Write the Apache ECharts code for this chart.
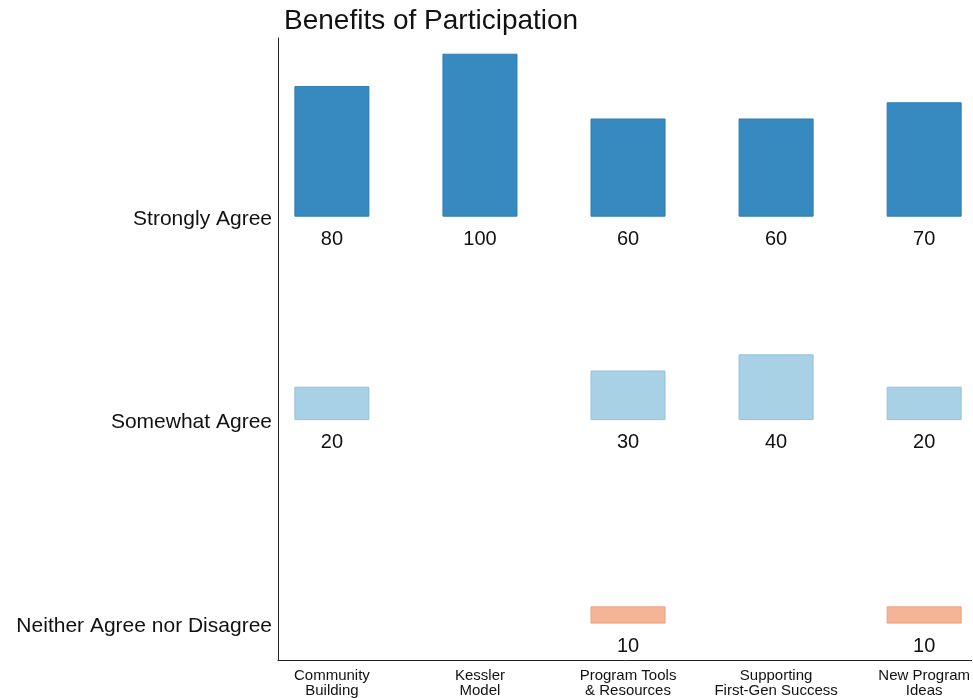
<!DOCTYPE html>
<html>
<head>
<meta charset="utf-8">
<script src="https://cdn.jsdelivr.net/npm/echarts@6/dist/echarts.min.js"></script>
<style>
  html, body { margin: 0; padding: 0; background: #fff; }
  #chart { width: 973px; height: 698px; }
</style>
</head>
<body>
<div id="chart"></div>
<script>
var categories = ['Community\nBuilding', 'Kessler\nModel', 'Program Tools\n& Resources', 'Supporting\nFirst-Gen Success', 'New Program\nIdeas'];
var levels = ['Neither Agree nor Disagree', 'Somewhat Agree', 'Strongly Agree'];
var stronglyAgree = [80, 100, 60, 60, 70];
var somewhatAgree = [20, null, 30, 40, 20];
var neitherAgree = [null, null, 10, null, 10];
var levelColors = ['#f4b496', '#a8d1e5', '#378abf'];
var levelBorders = ['#eca07e', '#93c3dc', '#2f7bb0'];

var rowStep = 125.6; // y units between row baselines
var labelShift = 1.8; // row names sit a little below the baseline
var rows = [neitherAgree, somewhatAgree, stronglyAgree];

var chart = echarts.init(document.getElementById('chart'));
var font = 'Arial, "Liberation Sans", sans-serif';

function rowData(vals, r) {
    var out = [];
    vals.forEach(function (v, i) {
        if (v != null) out.push([i + 1, r * rowStep, v]);
    });
    return out;
}

function renderCell(r) {
    return function (params, api) {
        var x = api.value(0), base = api.value(1), v = api.value(2);
        var p0 = api.coord([x, base]);
        var p1 = api.coord([x, base + v]);
        var w = api.size([0.5, 0])[0];
        return {
            type: 'group',
            children: [{
                type: 'rect',
                shape: { x: p0[0] - w / 2, y: p1[1], width: w, height: p0[1] - p1[1] },
                style: { fill: levelColors[r], stroke: levelBorders[r], lineWidth: 1 }
            }, {
                type: 'text',
                x: p0[0],
                y: p0[1] + 23,
                style: {
                    text: String(v), align: 'center', verticalAlign: 'middle',
                    fontSize: 20, fontFamily: font, fill: '#111'
                }
            }]
        };
    };
}

var series = rows.map(function (vals, r) {
    return {
        type: 'custom',
        name: levels[r],
        renderItem: renderCell(r),
        data: rowData(vals, r),
        clip: false
    };
});

var option = {
    animation: false,
    title: {
        text: 'Benefits of Participation',
        left: 279,
        top: 2,
        textStyle: { fontSize: 28, fontWeight: 'normal', color: '#111', fontFamily: font }
    },
    grid: { left: 278, right: 0, top: 38, bottom: 38 },
    xAxis: {
        type: 'value',
        min: 0.636,
        max: 5.32,
        splitLine: { show: false },
        axisLine: { show: true, onZero: false, lineStyle: { color: '#222', width: 1 } },
        axisTick: { show: false },
        axisLabel: {
            customValues: [1, 2, 3, 4, 5],
            formatter: function (v) { return categories[Math.round(v) - 1]; },
            fontSize: 15, lineHeight: 15, color: '#111', fontFamily: font, margin: 8,
            showMinLabel: true, showMaxLabel: true
        }
    },
    yAxis: {
        type: 'value',
        min: -22.8,
        max: 361.2,
        splitLine: { show: false },
        axisLine: { show: true, onZero: false, lineStyle: { color: '#222', width: 1 } },
        axisTick: { show: false },
        axisLabel: {
            customValues: [-labelShift, rowStep - labelShift, 2 * rowStep - labelShift],
            formatter: function (v) { return levels[Math.round((v + labelShift) / rowStep)]; },
            fontSize: 21, color: '#111', fontFamily: font, margin: 6
        }
    },
    series: series
};

chart.setOption(option);
</script>
</body>
</html>
